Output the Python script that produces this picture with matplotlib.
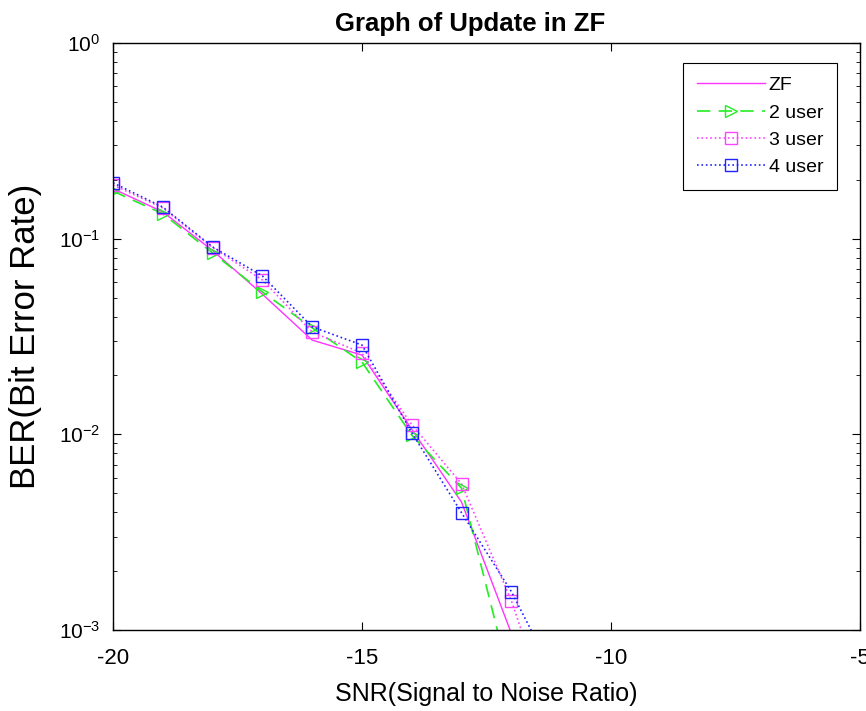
import matplotlib
matplotlib.use("Agg")
import matplotlib.pyplot as plt
import numpy as np

plt.rcParams['font.family'] = ['Liberation Sans', 'DejaVu Sans']
plt.rcParams['axes.unicode_minus'] = False
plt.rcParams['mathtext.fontset'] = 'custom'
plt.rcParams['mathtext.rm'] = 'Liberation Sans'

snr = [-20, -19, -18, -17, -16, -15, -14, -13, -12]
snr_tail = [-20, -19, -18, -17, -16, -15, -14, -13, -12, -11]

ber_zf = [0.180, 0.137, 0.087, 0.052, 0.0303, 0.0254, 0.0106, 0.0045, 0.00096]
ber_2user = [0.175, 0.134, 0.0845, 0.0534, 0.0350, 0.0234, 0.0099, 0.0053, 0.00052]
ber_3user = [0.188, 0.1435, 0.0900, 0.0615, 0.0333, 0.0260, 0.0112, 0.00558, 0.00141, 0.00025]
ber_4user = [0.193, 0.1450, 0.0907, 0.0645, 0.0354, 0.0286, 0.0102, 0.00397, 0.00157, 0.00050]

fig = plt.figure(figsize=(8.66, 7.11), dpi=100)
ax = fig.add_axes([0.1305, 0.114, 0.8625, 0.8255])

ax.semilogy(snr, ber_zf, color='#ff33ff', linestyle='-', lw=1, label='ZF')
ax.semilogy(snr, ber_2user, color='#22ee22', linestyle=(0, (8, 5)), lw=1.2,
            marker='>', markersize=9, markerfacecolor='none', label='2 user')
ax.semilogy(snr_tail, ber_3user, color='#ff44ff', linestyle=':', lw=1.2,
            marker='s', markersize=8.5, markerfacecolor='none', label='3 user')
ax.semilogy(snr_tail, ber_4user, color='#2222ff', linestyle=':', lw=1.2,
            marker='s', markersize=8.5, markerfacecolor='none', label='4 user')

ax.set_xlim(-20, -5)
ax.set_ylim(1e-3, 1)
ax.set_xticks([-20, -15, -10, -5])
ax.tick_params(which='both', direction='in', top=True, right=True)
ax.tick_params(axis='x', labelsize=16, pad=13)
ax.tick_params(axis='y', labelsize=15, pad=9)
ax.tick_params(which='major', length=6)
ax.tick_params(which='minor', length=3)
for s in ax.spines.values():
    s.set_linewidth(1)

ax.set_title('Graph of Update in ZF', fontsize=18.5, fontweight='bold', pad=9, x=0.478)
ax.set_xlabel('SNR(Signal to Noise Ratio)', fontsize=18, labelpad=9)
ax.set_ylabel('BER(Bit Error Rate)', fontsize=25, labelpad=12)

leg = ax.legend(loc='upper right', bbox_to_anchor=(0.969, 0.966), fontsize=14,
                fancybox=False, framealpha=1, edgecolor='black', handlelength=3.5,
                handletextpad=0.2, labelspacing=0.5, borderpad=0.7,
                borderaxespad=0)
leg.get_frame().set_linewidth(0.8)

fig.savefig('out.png', dpi=100)
